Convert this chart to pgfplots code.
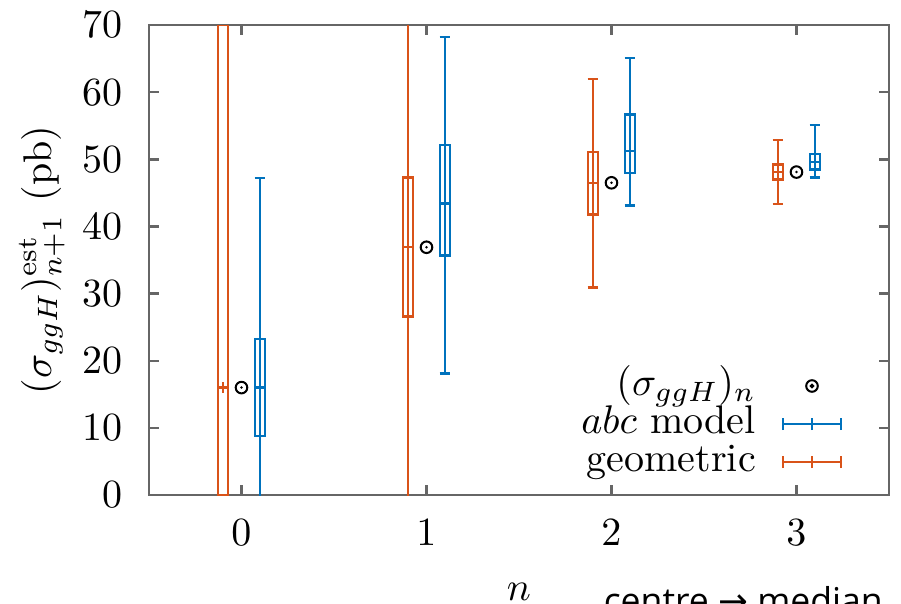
\documentclass[border=0pt]{standalone}
\usepackage{pgfplots}
\pgfplotsset{compat=1.18}
\usepgfplotslibrary{statistics}
\usepackage{fontspec}
\newfontfamily\opensans{Open Sans}
\newfontfamily\dejavu{DejaVu Sans}
\definecolor{mblue}{HTML}{0072BD}
\definecolor{morange}{HTML}{D95319}
\definecolor{axgray}{HTML}{666666}
\pgfdeclareplotmark{odot}{%
  \pgfpathcircle{\pgfpointorigin}{\pgfplotmarksize}\pgfusepathqstroke
  \pgfpathcircle{\pgfpointorigin}{0.35pt}\pgfusepathqfill}
\begin{document}
\begin{tikzpicture}
\begin{axis}[
  at={(0,0)}, anchor=south west,
  scale only axis, width=185pt, height=117.5pt,
  xmin=-0.5, xmax=3.5, ymin=0, ymax=70,
  xtick={0,1,2,3}, ytick={0,10,...,70},
  axis line style={axgray, line width=0.6pt},
  tick style={axgray, line width=0.6pt},
  major tick length=2.5pt,
  xticklabel style={anchor=base, yshift=-12.5pt},
  yticklabel style={anchor=east, xshift=-3.2pt},
  xlabel={$n$},
  xlabel style={at={(axis description cs:0.5,-0.225)}, anchor=base},
  ylabel={$(\sigma_{ggH})^{\mathrm{est}}_{n+1}$ (pb)},
  ylabel style={at={(axis description cs:-0.1446,0.5)}, anchor=center},
  unbounded coords=jump,
  boxplot/draw direction=y,
  legend plot pos=right,
  legend cell align=right,
  legend style={draw=none, fill=none, at={(axis description cs:1,0)}, anchor=south east,
    xshift=-11.5pt, yshift=3.3pt, inner sep=0pt, row sep=0pt, column sep=6.5pt,
    nodes={inner sep=0pt, text height=7pt, text depth=2.5pt}},
]
% legend
\addlegendimage{legend image code/.code={\draw[black, line width=0.5pt] (7.25pt,0pt) circle (1.45pt); \fill[black] (7.25pt,0pt) circle (0.35pt);}}
\addlegendentry{$(\sigma_{ggH})_n$}
\addlegendimage{legend image code/.code={\draw[mblue, line width=0.6pt] (0pt,0pt)--(14.5pt,0pt) (0pt,-1.5pt)--(0pt,1.5pt) (7.25pt,-1.5pt)--(7.25pt,1.5pt) (14.5pt,-1.5pt)--(14.5pt,1.5pt);}}
\addlegendentry{$abc$ model}
\addlegendimage{legend image code/.code={\draw[morange, line width=0.6pt] (0pt,0pt)--(14.5pt,0pt) (0pt,-1.5pt)--(0pt,1.5pt) (7.25pt,-1.5pt)--(7.25pt,1.5pt) (14.5pt,-1.5pt)--(14.5pt,1.5pt);}}
\addlegendentry{geometric}
% geometric (orange)
\addplot[morange, line width=0.6pt, forget plot, boxplot prepared={draw position=-0.1, lower whisker=-20, lower quartile=0, median=16.0, upper quartile=70, upper whisker=90, box extend=0.057, whisker extend=0.057}] coordinates {};
\addplot[morange, line width=0.6pt, forget plot, boxplot prepared={draw position=0.9, lower whisker=-20, lower quartile=26.6, median=36.9, upper quartile=47.3, upper whisker=90, box extend=0.057, whisker extend=0.057}] coordinates {};
\addplot[morange, line width=0.6pt, forget plot, boxplot prepared={draw position=1.9, lower whisker=30.9, lower quartile=41.8, median=46.5, upper quartile=51.1, upper whisker=62.0, box extend=0.057, whisker extend=0.057}] coordinates {};
\addplot[morange, line width=0.6pt, forget plot, boxplot prepared={draw position=2.9, lower whisker=43.3, lower quartile=47.0, median=48.1, upper quartile=49.25, upper whisker=52.9, box extend=0.057, whisker extend=0.057}] coordinates {};
% abc model (blue)
\addplot[mblue, line width=0.6pt, forget plot, boxplot prepared={draw position=0.1, lower whisker=-10, lower quartile=8.8, median=16.0, upper quartile=23.2, upper whisker=47.2, box extend=0.057, whisker extend=0.057}] coordinates {};
\addplot[mblue, line width=0.6pt, forget plot, boxplot prepared={draw position=1.1, lower whisker=18.1, lower quartile=35.7, median=43.4, upper quartile=52.1, upper whisker=68.2, box extend=0.057, whisker extend=0.057}] coordinates {};
\addplot[mblue, line width=0.6pt, forget plot, boxplot prepared={draw position=2.1, lower whisker=43.1, lower quartile=48.0, median=51.2, upper quartile=56.7, upper whisker=65.1, box extend=0.057, whisker extend=0.057}] coordinates {};
\addplot[mblue, line width=0.6pt, forget plot, boxplot prepared={draw position=3.1, lower whisker=47.3, lower quartile=48.5, median=49.6, upper quartile=50.8, upper whisker=55.1, box extend=0.057, whisker extend=0.057}] coordinates {};
% centre lines through the boxes
\addplot[morange, line width=0.6pt, forget plot, no marks] coordinates {(-0.1,15.2) (-0.1,16.8) (nan,nan) (0.9,26.6) (0.9,47.3) (nan,nan) (1.9,41.8) (1.9,51.1) (nan,nan) (2.9,47.0) (2.9,49.25)};
\addplot[mblue, line width=0.6pt, forget plot, no marks] coordinates {(0.1,8.8) (0.1,23.2) (nan,nan) (1.1,35.7) (1.1,52.1) (nan,nan) (2.1,48.0) (2.1,56.7) (nan,nan) (3.1,48.5) (3.1,50.8)};
% (sigma_ggH)_n
\addplot[black, line width=0.5pt, only marks, mark=odot, mark size=1.45pt, forget plot] coordinates {(0,16.0) (1,36.9) (2,46.5) (3,48.1)};
\end{axis}
\node[anchor=base west, inner sep=0pt, font=\fontsize{8.9}{10}\selectfont\opensans] at (113.5pt,-29.6pt) {centre {\dejavu →} median};
\pgfresetboundingbox
\useasboundingbox (-37.25pt,-27pt) rectangle (188pt,123.75pt);
\end{tikzpicture}
\end{document}
